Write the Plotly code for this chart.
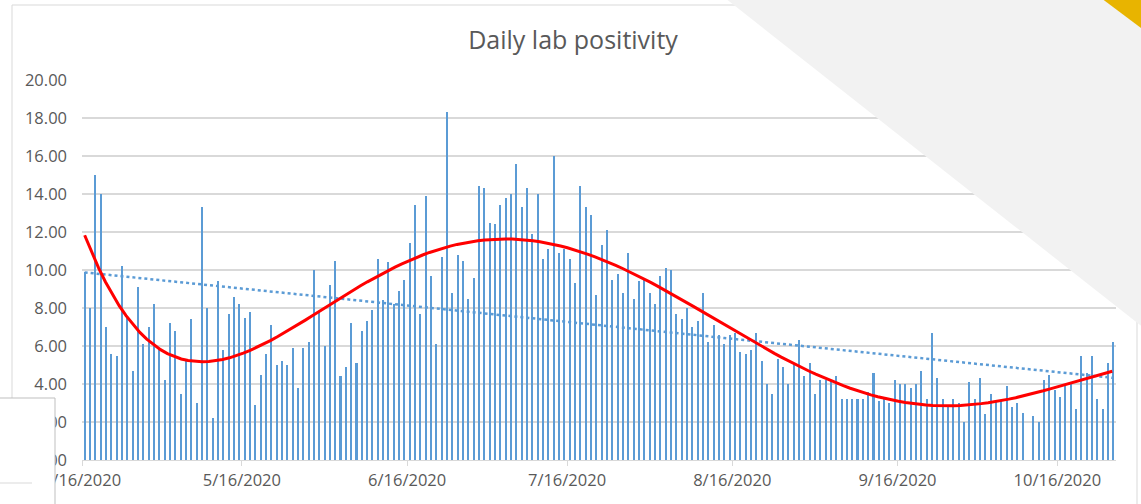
import numpy as np
import pandas as pd
import plotly.graph_objects as go

START = "2020-04-16"

# daily lab positivity (%), one value per day from 4/16/2020; None = no report
positivity = [
    9.9, 8.0, 15.0, 14.0, 7.0, 5.6, 5.5, 10.2, 7.5, 4.7, 9.1, 6.1, 7.0, 8.2, 5.9, 4.2,
    7.2, 6.8, 3.5, 5.3, 7.4, 3.0, 13.3, 8.0,
    2.2, 9.4, 5.8, 7.7, 8.6, 8.2, 7.5, 7.8, 2.9, 4.5, 5.6, 7.1, 5.0, 5.2, 5.0, 5.9,
    3.8, 5.9, 6.2, 10.0, 7.8, 6.0, 9.2, 10.5, 4.4,
    4.9, 7.2, 5.1, 6.8, 7.3, 7.9, 10.6, 8.4, 10.4, 8.2, 8.9, 9.5, 11.4, 13.4, 7.7, 13.9,
    9.7, 6.1, 10.7, 18.3, 8.8, 10.8, 10.5, 8.5,
    9.6, 14.4, 14.3, 12.5, 12.4, 13.4, 13.8, 14.0, 15.6, 13.3, 14.3, 11.9, 14.0, 10.6,
    11.1, 16.0, 10.9, 11.1, 10.6, 9.3, 14.4, 13.3, 12.9, 8.7,
    11.3, 12.1, 9.5, 9.8, 8.8, 10.9, 8.5, 9.4, 9.5, 8.8, 8.2, 9.7, 10.1, 10.0, 7.7, 7.4,
    8.0, 7.0, 7.3, 8.8, 6.2, 7.1, 6.6, 6.1, 6.6,
    6.7, 5.7, 5.6, 5.8, 6.7, 5.2, 4.0, 3.5, 5.3, 4.9, 4.0, 5.1, 6.3, 4.4, 5.1, 3.5,
    4.2, 4.2, 4.2, 4.4, 3.2, 3.2, 3.2, 3.2,
    3.2, 3.6, 4.6, 3.1, 3.2, 3.0, 4.2, 4.0, 4.0, 3.8, 4.0, 4.7, 3.2, 6.7, 4.3, 3.2,
    2.9, 3.2, 3.0, 2.0, 4.1, 3.2, 4.3, 2.4, 3.5, 3.1, 3.1, 3.9, 2.8, 3.0, 2.5, None,
    2.3, 2.0, 4.2, 4.5, 3.7, 3.3, 3.9, 4.0, 2.7, 5.5, 4.6, 5.5, 3.2, 2.7, 5.1, 6.2,
]

# polynomial trendline as drawn on the chart (days after 4/16/2020, value)
trend_days = [0, 2.5, 5, 7.5, 10, 13.8, 17.5, 21.6, 23.1, 29.4, 35.7, 41.9, 47.5, 53.8,
              60, 66.3, 72.3, 78.2, 82, 87.6, 92, 96.5, 102.6, 108.9, 115.1, 121, 127,
              133.3, 139.5, 145.5, 151.4, 157.7, 163.9, 169.9, 175.8, 182, 188.3, 192.8]
trend_values = [12.0, 10.3, 8.7, 7.5, 6.6, 5.8, 5.4, 5.3, 5.3, 5.7, 6.44, 7.53, 8.45, 9.39,
                10.3, 11.05, 11.44, 11.6, 11.6, 11.35, 11.0, 10.6, 9.98, 9.07, 8.02, 7.0,
                5.86, 5.04, 4.16, 3.6, 3.1, 2.9, 2.88, 3.05, 3.32, 3.9, 4.37, 4.6]

tick_dates = ["2020-04-16", "2020-05-16", "2020-06-16", "2020-07-16",
              "2020-08-16", "2020-09-16", "2020-10-16"]
tick_text = ["4/16/2020", "5/16/2020", "6/16/2020", "7/16/2020",
             "8/16/2020", "9/16/2020", "10/16/2020"]

dates = pd.date_range(START, periods=len(positivity), freq="D")
s = pd.Series(positivity, index=dates, dtype=float)
days = np.arange(len(s))
mid = dates + pd.Timedelta(hours=12)   # bar centres on an excel date axis

# linear trendline fitted on the data, as excel does
ok = s.notna().values
lin = np.polyval(np.polyfit(days[ok], s.values[ok], 1), days)

tc = np.polyfit(np.array(trend_days) / 100, trend_values, 6)
tdays = np.linspace(0, trend_days[-1], 150)
poly = np.polyval(tc, tdays / 100)
poly_x = pd.Timestamp(START) + pd.Timedelta(hours=12) + pd.to_timedelta(tdays, unit="D")

DAY = 86400000
BLUE = "#5B9BD5"
GRID = "#D9D9D9"

fig = go.Figure()
fig.add_trace(go.Bar(x=dates, y=s.values, width=0.38 * DAY, offset=0.31 * DAY,
                     marker={"color": BLUE, "line": {"width": 0}}, name="Positivity"))
fig.add_trace(go.Scatter(x=mid, y=lin, mode="lines", name="Linear",
                         line={"color": BLUE, "width": 2.5, "dash": "dot"}))
fig.add_trace(go.Scatter(x=poly_x, y=poly, mode="lines", name="Poly.",
                         line={"color": "#FF0000", "width": 3}))

# pixel -> paper helpers for the slide decorations around the chart
L, R, T, B = 82, 1116, 80, 460
px = lambda x: (x - L) / (R - L)
py = lambda y: (B - y) / (B - T)

shapes = [
    # chart area border
    dict(type="rect", xref="paper", yref="paper", x0=px(12), x1=px(1137), y0=py(5), y1=py(540),
         line={"color": GRID, "width": 1}, fillcolor="rgba(0,0,0,0)", layer="above"),
    # grey slide band across the top-right corner
    dict(type="path", xref="paper", yref="paper", layer="above", line={"width": 0},
         fillcolor="#F2F2F2",
         path=f"M {px(725)} {py(-2)} L {px(1145)} {py(-2)} L {px(1145)} {py(329)} Z"),
    # yellow corner
    dict(type="path", xref="paper", yref="paper", layer="above", line={"width": 0},
         fillcolor="#E8B400",
         path=f"M {px(1101)} {py(-2)} L {px(1145)} {py(-2)} L {px(1145)} {py(31)} Z"),
    # overlapping white box, bottom-left
    dict(type="rect", xref="paper", yref="paper", x0=px(-5), x1=px(55), y0=py(398), y1=py(520),
         line={"color": "#BFBFBF", "width": 1}, fillcolor="white", layer="above"),
    dict(type="line", xref="paper", yref="paper", x0=px(0), x1=px(32), y0=py(483), y1=py(483),
         line={"color": GRID, "width": 1}, layer="above"),
]

fig.update_layout(
    width=1141, height=504,
    margin={"l": L, "r": 1141 - R, "t": T, "b": 504 - B},
    title={"text": "Daily lab positivity", "x": 573 / 1141, "xref": "container", "xanchor": "center",
           "y": 1 - 40 / 504, "yanchor": "middle",
           "font": {"family": "Open Sans", "size": 25, "color": "#595959"}},
    font={"family": "Open Sans", "size": 16.5, "color": "#595959"},
    xaxis={"type": "date", "range": ["2020-04-16", "2020-10-27"],
           "tickvals": tick_dates, "ticktext": tick_text,
           "ticks": "outside", "ticklen": 5, "tickcolor": GRID,
           "showgrid": False, "showline": True, "linecolor": GRID, "linewidth": 1},
    yaxis={"range": [0, 20], "dtick": 2, "tickformat": ".2f",
           "gridcolor": GRID, "gridwidth": 1.5, "zeroline": False, "showline": False,
           "ticklabelstandoff": 14},
    shapes=shapes,
    showlegend=False, bargap=0,
    template="plotly_white",
    paper_bgcolor="white", plot_bgcolor="white",
)

# page body margin off so the figure sits at the window's top-left corner
fig.write_html("out.html", config={"displayModeBar": False},
               post_script="document.body.style.margin='0';")
